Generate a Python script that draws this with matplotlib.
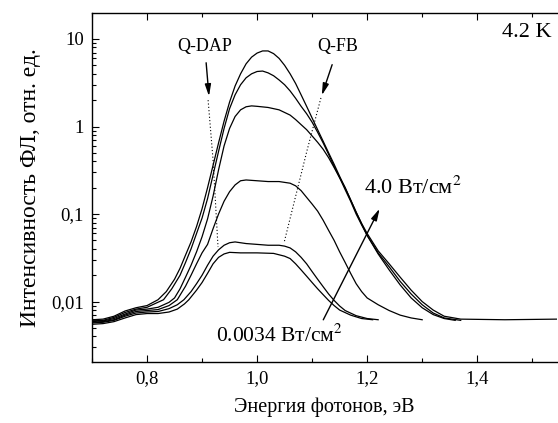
import matplotlib
matplotlib.use("Agg")
import matplotlib.pyplot as plt
from matplotlib.ticker import LogLocator, MultipleLocator, FixedLocator, NullFormatter

plt.rcParams["font.family"] = ["Liberation Serif", "DejaVu Serif"]
plt.rcParams["mathtext.fontset"] = "stix"

# photon energy (eV) and PL intensity (arb. units)
e1 = [0.70, 0.72, 0.74, 0.76, 0.78, 0.80, 0.82, 0.835, 0.85, 0.86, 0.87, 0.88, 0.89, 0.90, 0.91,
      0.92, 0.93, 0.94, 0.95, 0.96, 0.97, 0.98, 0.99, 1.00, 1.01, 1.02, 1.03, 1.04, 1.05, 1.06,
      1.07, 1.08, 1.09, 1.10, 1.11, 1.12, 1.13, 1.14, 1.15, 1.16, 1.17, 1.18, 1.19, 1.20, 1.22,
      1.24, 1.26, 1.28, 1.30, 1.32, 1.34, 1.37, 1.45, 1.545]
i1 = [0.0062, 0.0063, 0.0068, 0.0078, 0.0085, 0.0090, 0.0105, 0.013, 0.018, 0.024, 0.034, 0.048, 0.072, 0.115, 0.2,
      0.36, 0.65, 1.15, 1.9, 2.9, 4.0, 5.2, 6.2, 6.9, 7.3, 7.3, 6.8, 6.0, 5.0, 4.0,
      3.1, 2.3, 1.7, 1.25, 0.92, 0.68, 0.5, 0.37, 0.27, 0.2, 0.145, 0.105, 0.078, 0.06, 0.038,
      0.027, 0.019, 0.0135, 0.0100, 0.0080, 0.0068, 0.0063, 0.0062, 0.0063]

e2 = [0.70, 0.72, 0.74, 0.76, 0.78, 0.80, 0.83, 0.845, 0.86, 0.87, 0.88, 0.89, 0.90, 0.91, 0.92,
      0.93, 0.94, 0.95, 0.96, 0.97, 0.98, 0.99, 1.00, 1.01, 1.02, 1.03, 1.04, 1.05, 1.06, 1.07,
      1.08, 1.09, 1.10, 1.11, 1.12, 1.13, 1.14, 1.15, 1.16, 1.17, 1.18, 1.19, 1.20, 1.22, 1.24,
      1.26, 1.28, 1.30, 1.32, 1.34, 1.37]
i2 = [0.0060, 0.0061, 0.0066, 0.0075, 0.0082, 0.0086, 0.0105, 0.014, 0.02, 0.028, 0.04, 0.06, 0.09, 0.15, 0.28,
      0.52, 0.95, 1.6, 2.3, 3.0, 3.6, 4.0, 4.25, 4.3, 4.1, 3.8, 3.4, 3.0, 2.55, 2.1,
      1.7, 1.4, 1.12, 0.86, 0.65, 0.48, 0.35, 0.26, 0.19, 0.14, 0.1, 0.075, 0.057, 0.036, 0.025,
      0.017, 0.0122, 0.0092, 0.0074, 0.0065, 0.0061]

e3 = [0.70, 0.72, 0.74, 0.76, 0.78, 0.80, 0.82, 0.84, 0.85, 0.86, 0.87, 0.88, 0.89, 0.90, 0.91,
      0.92, 0.93, 0.94, 0.95, 0.96, 0.97, 0.98, 0.99, 1.00, 1.02, 1.04, 1.06, 1.07, 1.08, 1.09,
      1.10, 1.11, 1.12, 1.13, 1.14, 1.15, 1.16, 1.17, 1.18, 1.19, 1.20, 1.22, 1.24, 1.26, 1.28,
      1.30, 1.32, 1.34, 1.36]
i3 = [0.0060, 0.0060, 0.0064, 0.0072, 0.0080, 0.0082, 0.0086, 0.0098, 0.011, 0.014, 0.019, 0.026, 0.037, 0.055, 0.088,
      0.16, 0.32, 0.6, 0.95, 1.3, 1.55, 1.68, 1.72, 1.7, 1.65, 1.55, 1.35, 1.2, 1.05, 0.92,
      0.78, 0.66, 0.55, 0.44, 0.34, 0.26, 0.2, 0.145, 0.105, 0.077, 0.057, 0.035, 0.023, 0.0155, 0.011,
      0.0085, 0.0071, 0.0064, 0.0061]

e4 = [0.70, 0.72, 0.74, 0.76, 0.78, 0.80, 0.82, 0.84, 0.855, 0.87, 0.88, 0.89, 0.90, 0.91, 0.92,
      0.93, 0.94, 0.95, 0.96, 0.97, 0.98, 1.00, 1.02, 1.04, 1.06, 1.07, 1.08, 1.09, 1.10, 1.11,
      1.12, 1.13, 1.14, 1.15, 1.16, 1.17, 1.18, 1.19, 1.20, 1.22, 1.24, 1.26, 1.28, 1.30]
i4 = [0.0058, 0.0059, 0.0062, 0.0070, 0.0077, 0.0079, 0.0081, 0.0090, 0.0105, 0.015, 0.02, 0.027, 0.036, 0.045, 0.068,
      0.1, 0.14, 0.18, 0.215, 0.24, 0.245, 0.24, 0.235, 0.235, 0.225, 0.21, 0.185, 0.155, 0.13, 0.108,
      0.085, 0.065, 0.05, 0.037, 0.028, 0.021, 0.016, 0.013, 0.011, 0.0092, 0.0079, 0.0070, 0.0065, 0.0062]

e5 = [0.70, 0.72, 0.74, 0.76, 0.78, 0.80, 0.82, 0.84, 0.855, 0.867, 0.88, 0.89, 0.90, 0.91, 0.92,
      0.93, 0.94, 0.95, 0.96, 0.98, 1.00, 1.02, 1.04, 1.05, 1.06, 1.07, 1.08, 1.09, 1.10, 1.11,
      1.12, 1.13, 1.14, 1.15, 1.16, 1.18, 1.20, 1.22]
i5 = [0.0057, 0.0058, 0.0061, 0.0068, 0.0074, 0.0076, 0.0077, 0.0083, 0.0092, 0.0105, 0.013, 0.016, 0.02, 0.026, 0.033,
      0.039, 0.044, 0.047, 0.048, 0.046, 0.045, 0.044, 0.044, 0.043, 0.041, 0.037, 0.032, 0.027, 0.022, 0.018,
      0.0148, 0.0122, 0.0103, 0.0089, 0.0079, 0.0069, 0.0064, 0.0062]

e6 = [0.70, 0.72, 0.74, 0.76, 0.78, 0.80, 0.82, 0.84, 0.855, 0.868, 0.876, 0.89, 0.90, 0.91, 0.92,
      0.93, 0.94, 0.95, 0.97, 1.00, 1.03, 1.05, 1.06, 1.07, 1.08, 1.09, 1.10, 1.11, 1.12, 1.13,
      1.14, 1.15, 1.17, 1.19, 1.21]
i6 = [0.0055, 0.0056, 0.0059, 0.0065, 0.0071, 0.0073, 0.0073, 0.0076, 0.0082, 0.0094, 0.0105, 0.0135, 0.0165, 0.021, 0.027,
      0.032, 0.035, 0.0365, 0.036, 0.036, 0.0355, 0.033, 0.031, 0.027, 0.023, 0.0195, 0.0165, 0.014, 0.012, 0.0103,
      0.009, 0.008, 0.007, 0.0064, 0.0062]

curves = [(e1, i1), (e2, i2), (e3, i3), (e4, i4), (e5, i5), (e6, i6)]

# dotted guide lines through the Q-DAP and Q-FB features
qdap_e = [0.911, 0.920, 0.929]
qdap_i = [2.0, 0.414, 0.042]
qfb_e = [1.116, 1.091, 1.049]
qfb_i = [2.12, 0.54, 0.047]

fig = plt.figure(figsize=(5.58, 4.23), dpi=100)
ax = fig.add_axes([92 / 558, 61 / 423, 465 / 558, 349 / 423])

for e, i in curves:
    ax.plot(e, i, color="black", linewidth=0.9)

ax.plot(qdap_e, qdap_i, color="black", linestyle=(0, (1, 2)), linewidth=0.8)
ax.plot(qfb_e, qfb_i, color="black", linestyle=(0, (1, 2)), linewidth=0.8)

ax.set_yscale("log")
ax.set_xlim(0.7, 1.545)
ax.set_ylim(0.00204, 19.8)

ax.xaxis.set_major_locator(FixedLocator([0.8, 1.0, 1.2, 1.4]))
ax.xaxis.set_minor_locator(MultipleLocator(0.1))
ax.set_xticklabels(["0,8", "1,0", "1,2", "1,4"])
ax.yaxis.set_major_locator(FixedLocator([0.01, 0.1, 1, 10]))
ax.yaxis.set_minor_locator(LogLocator(base=10, subs=range(2, 10)))
ax.yaxis.set_minor_formatter(NullFormatter())
ax.set_yticklabels(["0,01", "0,1", "1", "10"])

ax.tick_params(which="both", direction="in", top=True, right=False, labelsize=13.5, width=0.8)
ax.tick_params(which="major", length=5, pad=6)
ax.tick_params(which="minor", length=3)
ax.spines["right"].set_visible(False)
for s in ["left", "bottom", "top"]:
    ax.spines[s].set_linewidth(1.0)

ax.set_xlabel("Энергия фотонов, эВ", fontsize=14.5, labelpad=7)
ax.set_ylabel("Интенсивность ФЛ, отн. ед.", fontsize=17, labelpad=7)

arrow = dict(arrowstyle="-|>,head_length=0.7,head_width=0.18", color="black", lw=1.0)
ax.annotate("", xy=(0.913, 2.06), xytext=(0.907, 5.75), arrowprops=arrow)
ax.annotate("", xy=(1.116, 2.12), xytext=(1.138, 5.45), arrowprops=arrow)
ax.text(0.904, 8.1, "Q-DAP", fontsize=13, ha="center", va="center")
ax.text(1.147, 8.3, "Q-FB", fontsize=13, ha="center", va="center")
ax.text(1.491, 11.7, "4.2 K", fontsize=16, ha="center", va="center")

ax.annotate("", xy=(1.225, 0.123), xytext=(1.118, 0.0058), arrowprops=arrow)
ax.text(1.195, 0.2, "4.0 Вт/см$^2$", fontsize=16, ha="left", va="center")
ax.text(1.04, 0.00404, "0.0034 Вт/см$^2$", fontsize=15.5, ha="center", va="center")

fig.savefig("out.png", dpi=100)
